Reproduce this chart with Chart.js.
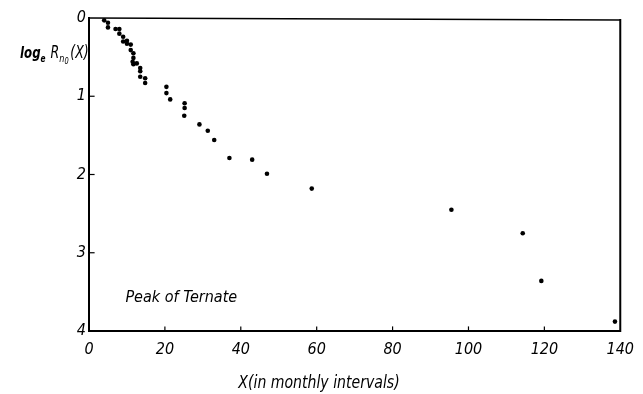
<!DOCTYPE html>
<html>
<head>
<meta charset="utf-8">
<script src="https://cdn.jsdelivr.net/npm/chart.js@4.4.0/dist/chart.umd.min.js"></script>
<style>
  html, body { margin: 0; padding: 0; background: #fff; }
  #wrap { position: relative; width: 643px; height: 394px; }
</style>
</head>
<body>
<div id="wrap"><canvas id="grafico" width="643" height="394"></canvas></div>
<script>
// data (X in months, log_e R)
const xMeses = [4, 5, 5, 7, 8, 8, 9, 9, 10, 10, 11, 11, 11.7, 11.7, 11.5, 11.7, 12.6, 13.5, 13.5, 13.5, 14.8, 14.8,
  20.4, 20.4, 21.4, 25.2, 25.2, 25.1, 29.1, 31.3, 33, 37, 43, 46.9, 58.7, 95.5, 114.3, 119.2, 138.6];
const logR = [0.03, 0.06, 0.12, 0.14, 0.14, 0.2, 0.24, 0.3, 0.29, 0.33, 0.34, 0.41, 0.45, 0.51, 0.56, 0.59, 0.58, 0.64, 0.68, 0.75, 0.77, 0.83,
  0.88, 0.96, 1.04, 1.09, 1.15, 1.25, 1.36, 1.44, 1.56, 1.79, 1.81, 1.99, 2.18, 2.45, 2.75, 3.36, 3.88];
const xTicks = [0, 20, 40, 60, 80, 100, 120, 140];
const yTicks = [0, 1, 2, 3, 4];

const fonte = "'Liberation Sans Narrow', 'DejaVu Sans Condensed', 'Liberation Sans', sans-serif";

const pontos = xMeses.map((x, i) => ({ x: x, y: logR[i] }));

// moldura, tracinhos internos e textos extras
const molduraPlugin = {
  id: "moldura",
  afterDraw(chart) {
    const ctx = chart.ctx;
    const a = chart.chartArea;
    const sx = chart.scales.x;
    const sy = chart.scales.y;
    ctx.save();
    ctx.strokeStyle = "#000";
    ctx.lineCap = "square";
    // eixos
    ctx.lineWidth = 2;
    ctx.beginPath();
    ctx.moveTo(a.left, a.top);
    ctx.lineTo(a.left, a.bottom);
    ctx.lineTo(a.right, a.bottom);
    ctx.lineTo(a.right, a.top + 2);
    ctx.stroke();
    ctx.lineWidth = 1.5;
    ctx.beginPath();
    ctx.moveTo(a.left, a.top);
    ctx.lineTo(a.right, a.top + 2);
    ctx.stroke();
    // tracinhos para dentro
    ctx.lineWidth = 1.2;
    yTicks.slice(1, -1).forEach((v) => {
      const y = sy.getPixelForValue(v);
      ctx.beginPath();
      ctx.moveTo(a.left, y);
      ctx.lineTo(a.left + 5, y);
      ctx.stroke();
    });
    xTicks.slice(1, -1).forEach((v) => {
      const x = sx.getPixelForValue(v);
      ctx.beginPath();
      ctx.moveTo(x, a.bottom);
      ctx.lineTo(x, a.bottom - 4);
      ctx.stroke();
    });
    ctx.fillStyle = "#000";
    ctx.textBaseline = "alphabetic";
    // rotulo do eixo y (um pouco estreitado)
    ctx.save();
    ctx.translate(20, 58);
    ctx.scale(0.82, 1);
    let px = 0;
    const parte = (txt, font, dy) => {
      ctx.font = font;
      ctx.fillText(txt, px, dy);
      px += ctx.measureText(txt).width;
    };
    parte("log", "bold italic 16px " + fonte, 0);
    parte("e", "bold italic 10px " + fonte, 4);
    px += 6;
    parte("R", "italic 17px " + fonte, 0);
    parte("n", "italic 11px " + fonte, 4);
    parte("0", "italic 9px " + fonte, 6);
    px += 2;
    parte("(X)", "italic 17px " + fonte, 0);
    ctx.restore();
    // titulo do eixo x
    ctx.save();
    ctx.translate(319, 388);
    ctx.scale(0.92, 1);
    ctx.font = "italic 17px " + fonte;
    ctx.textAlign = "center";
    ctx.fillText("X(in monthly intervals)", 0, 0);
    ctx.restore();
    // anotacao
    ctx.font = "italic 16px " + fonte;
    ctx.fillText("Peak of Ternate", sx.getPixelForValue(9.6), sy.getPixelForValue(3.63));
    ctx.restore();
  },
};

new Chart(document.querySelector("#grafico"), {
  type: "scatter",
  data: {
    datasets: [
      {
        label: "Peak of Ternate",
        data: pontos,
        backgroundColor: "#000",
        borderColor: "#000",
        pointRadius: 2.3,
        pointBorderWidth: 0,
      },
    ],
  },
  options: {
    responsive: false,
    animation: false,
    layout: { padding: { left: 0, top: 18, right: 10, bottom: 0 } },
    plugins: { legend: { display: false }, tooltip: { enabled: false } },
    scales: {
      x: {
        type: "linear",
        min: 0,
        max: 140,
        afterBuildTicks: (s) => { s.ticks = xTicks.map((v) => ({ value: v })); },
        afterFit: (s) => { s.height = 63; },
        grid: { display: false, drawTicks: false },
        border: { display: false },
        ticks: {
          padding: 9,
          maxRotation: 0,
          color: "#000",
          font: { family: fonte, size: 16, style: "italic" },
        },
      },
      y: {
        type: "linear",
        min: 0,
        max: 4,
        reverse: true,
        afterBuildTicks: (s) => { s.ticks = yTicks.map((v) => ({ value: v })); },
        afterFit: (s) => { s.width = 89; },
        grid: { display: false, drawTicks: false },
        border: { display: false },
        ticks: {
          padding: 3,
          color: "#000",
          font: { family: fonte, size: 16, style: "italic" },
        },
      },
    },
  },
  plugins: [molduraPlugin],
});
</script>
</body>
</html>
